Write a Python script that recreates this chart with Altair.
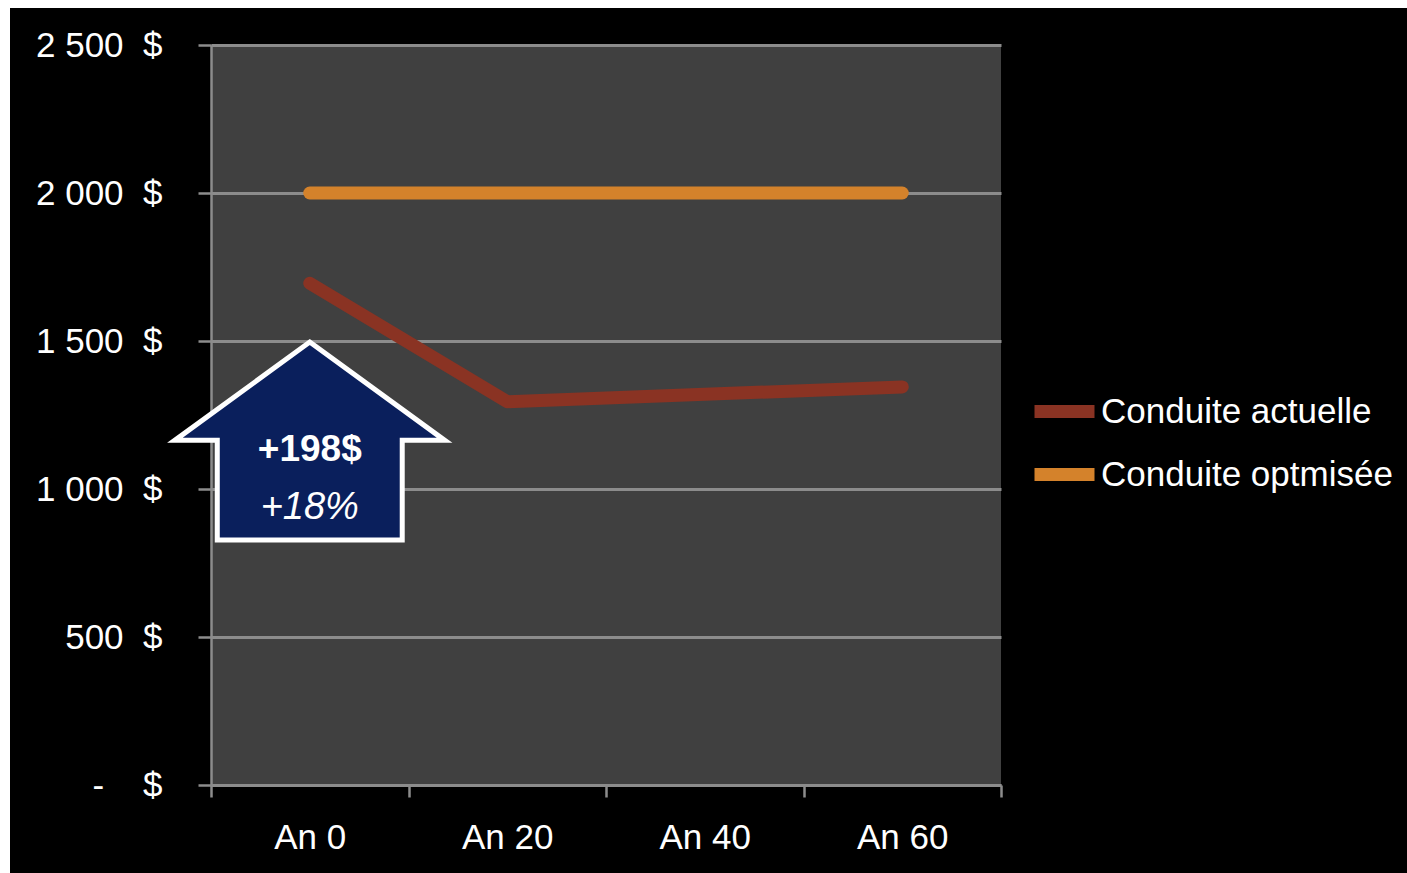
import altair as alt
import pandas as pd

years = ["An 0", "An 20", "An 40", "An 60"]
conduite_actuelle = [1695, 1295, 1320, 1345]
conduite_optimisee = [2000, 2000, 2000, 2000]
series_names = ["Conduite actuelle", "Conduite optmisée"]
series_colors = ["#8a3323", "#d4822b"]
y_ticks = [0, 500, 1000, 1500, 2000, 2500]

arrow_year = ["An 0"]
arrow_value = [1162]
label_bold = ["+198$"]
label_bold_value = [1133]
label_italic = ["+18%"]
label_italic_value = [937]

FONT = "Liberation Sans"
GRID = "#8c8c8c"
FS = 35

rows = []
for name, vals in zip(series_names, [conduite_actuelle, conduite_optimisee]):
    for yr, v in zip(years, vals):
        rows.append({"year": yr, "value": v, "serie": name})
df = pd.DataFrame(rows)

NB = "\u00a0"
label_expr = ("datum.value == 0 ? '-" + NB * 4 + "$' : "
              "replace(format(datum.value, ','), ',', ' ') + '" + NB * 2 + "$'")

x_enc = alt.X(
    "year:N", sort=years, bandPosition=0.5,
    scale=alt.Scale(type="band", domain=years, paddingInner=0, paddingOuter=0),
    axis=alt.Axis(title=None, labelFont=FONT, labelFontSize=FS, labelColor="white",
                  labelAngle=0, tickBand="extent", tickSize=12, tickWidth=2.5,
                  tickColor=GRID, domainColor=GRID, domainWidth=2.5, grid=False,
                  labelPadding=23),
)
y_enc = alt.Y(
    "value:Q",
    scale=alt.Scale(domain=[0, 2500], nice=False),
    axis=alt.Axis(title=None, values=y_ticks, labelFont=FONT, labelFontSize=FS,
                  labelColor="white", tickSize=13, tickWidth=2.5, tickColor=GRID,
                  domainColor=GRID, domainWidth=2.5, gridColor=GRID, gridWidth=3,
                  labelPadding=36, labelBaseline="middle", labelExpr=label_expr),
)

lines = alt.Chart(df).mark_line(strokeWidth=13, strokeCap="round", strokeJoin="round").encode(
    x=x_enc, y=y_enc,
    color=alt.Color("serie:N", scale=alt.Scale(domain=series_names, range=series_colors),
                    legend=alt.Legend(title=None, orient="none", legendX=817, legendY=330,
                                      labelFont=FONT, labelFontSize=FS, labelColor="white",
                                      labelLimit=500,
                                      symbolType="stroke", symbolStrokeWidth=13, symbolSize=3600,
                                      rowPadding=0, labelOffset=0, padding=0)),
)

arrow_df = pd.DataFrame({"year": arrow_year, "value": arrow_value})
arrow_path = ("M0,-0.733 L1,-0.005 L0.685,-0.005 L0.685,0.733 L-0.685,0.733 "
              "L-0.685,-0.005 L-1,-0.005 Z")
arrow = alt.Chart(arrow_df).mark_point(
    shape=arrow_path, size=270 * 270, filled=True, fill="#0a1f5c", stroke="white",
    strokeWidth=5, opacity=1, fillOpacity=1, strokeOpacity=1, strokeJoin="miter",
).encode(x=x_enc, y=y_enc)

bold_df = pd.DataFrame({"year": arrow_year, "value": label_bold_value, "txt": label_bold})
italic_df = pd.DataFrame({"year": arrow_year, "value": label_italic_value, "txt": label_italic})
t1 = alt.Chart(bold_df).mark_text(font=FONT, fontSize=37, fontWeight="bold", color="white",
                                  baseline="middle", align="center").encode(x=x_enc, y=y_enc, text="txt:N")
t2 = alt.Chart(italic_df).mark_text(font=FONT, fontSize=38, fontStyle="italic", color="white",
                                    baseline="middle", align="center").encode(x=x_enc, y=y_enc, text="txt:N")

one = alt.Data(values=[{"a": 1}])
border_left = alt.Chart(one).mark_rect(color="white").encode(
    x=alt.value(-211), x2=alt.value(-201), y=alt.value(-45), y2=alt.value(828))
border_top = alt.Chart(one).mark_rect(color="white").encode(
    x=alt.value(-211), x2=alt.value(1196), y=alt.value(-45), y2=alt.value(-37))

chart = alt.layer(border_left, border_top, lines, arrow, t1, t2).properties(
    width=790, height=740,
    padding={"left": 211, "top": 45, "right": 406, "bottom": 88},
    autosize=alt.AutoSizeParams(type="none"),
    background="black",
).configure_view(fill="#404040", stroke=None)

chart.save("out.html", embed_options={"renderer": "svg", "actions": False})
